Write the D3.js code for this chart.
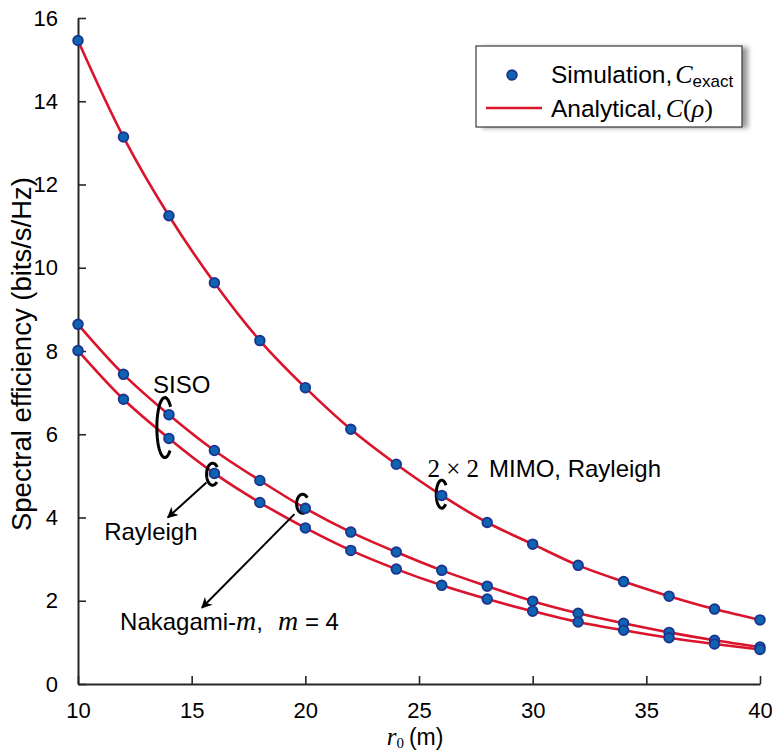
<!DOCTYPE html>
<html>
<head>
<meta charset="utf-8">
<script src="https://cdn.jsdelivr.net/npm/d3@7"></script>
<style>
  html, body { margin: 0; padding: 0; background: #fff; }
  svg { display: block; }
  text { font-family: "Liberation Sans", Arial, Helvetica, sans-serif; fill: #000; }
  .math { font-family: "Liberation Serif", "DejaVu Serif", serif; font-style: italic; }
  .mathup { font-family: "Liberation Serif", "DejaVu Serif", serif; }
</style>
</head>
<body>
<svg id="chart" width="772" height="751"></svg>
<script>
// Transmitter–receiver distance r0 (m)
const distance = [10, 12, 14, 16, 18, 20, 22, 24, 26, 28, 30, 32, 34, 36, 38, 40];

// Spectral efficiency (bits/s/Hz)
const mimoRayleigh = [15.46, 13.14, 11.25, 9.64, 8.25, 7.12, 6.12, 5.28, 4.53, 3.88, 3.36, 2.85, 2.46, 2.11, 1.80, 1.54];
const sisoNakagami = [8.64, 7.44, 6.47, 5.61, 4.89, 4.22, 3.65, 3.17, 2.73, 2.35, 1.99, 1.70, 1.46, 1.24, 1.05, 0.89];
const sisoRayleigh = [8.01, 6.84, 5.90, 5.06, 4.36, 3.75, 3.21, 2.76, 2.37, 2.04, 1.75, 1.49, 1.29, 1.11, 0.96, 0.83];

const xTicks = [10, 15, 20, 25, 30, 35, 40];
const yTicks = [0, 2, 4, 6, 8, 10, 12, 14, 16];

const seriesList = [mimoRayleigh, sisoNakagami, sisoRayleigh];

const svg = d3.select("#chart");
const margin = { left: 78, top: 18, right: 12, bottom: 67 };
const W = 772, H = 751;

const x = d3.scaleLinear().domain([10, 40]).range([margin.left, W - margin.right]);
const y = d3.scaleLinear().domain([0, 16]).range([H - margin.bottom, margin.top]);

const lineColor = "#d9142b";
const axisColor = "#262626";

// Analytical curves
const line = d3.line().x((d, i) => x(distance[i])).y(d => y(d)).curve(d3.curveCatmullRom.alpha(0.5));
svg.append("g").selectAll("path").data(seriesList).join("path")
  .attr("d", d => line(d))
  .attr("fill", "none")
  .attr("stroke", lineColor)
  .attr("stroke-width", 2.6);

// Axes (inward ticks, no box)
const xAxis = d3.axisBottom(x).tickValues(xTicks).tickSizeInner(-8).tickSizeOuter(0).tickPadding(18);
const yAxis = d3.axisLeft(y).tickValues(yTicks).tickSizeInner(-8).tickSizeOuter(0).tickPadding(20);

const gx = svg.append("g").attr("transform", `translate(0,${y(0)})`).call(xAxis);
const gy = svg.append("g").attr("transform", `translate(${x(10)},0)`).call(yAxis);
[gx, gy].forEach(g => {
  g.select(".domain").attr("stroke", axisColor).attr("stroke-width", 2);
  g.selectAll(".tick line").attr("stroke", axisColor).attr("stroke-width", 1.6);
  g.selectAll(".tick text").attr("font-size", 22).attr("fill", "#222")
    .attr("font-family", '"Liberation Sans", Arial, sans-serif');
});

// Annotation brackets: ellipse arcs open on the right
function bracket(cx, cy, rx, ry, t0, t1) {
  const pts = d3.range(0, 61).map(k => {
    const t = (t0 + (t1 - t0) * k / 60) * Math.PI / 180;
    return [cx + rx * Math.cos(t), cy + ry * Math.sin(t)];
  });
  svg.append("path").attr("d", d3.line()(pts))
    .attr("fill", "none").attr("stroke", "#000").attr("stroke-width", 3);
}
bracket(x(13.82), y(6.16), 8, 30, 50, 316);
bracket(x(15.92), y(5.04), 6, 11, 45, 320);
bracket(x(19.88), y(4.33), 6, 9.5, 45, 320);
bracket(x(26.0), y(4.56), 5.5, 14, 45, 320);

// Arrows
const defs = svg.append("defs");
defs.append("marker").attr("id", "arrowhead").attr("viewBox", "0 0 10 10")
  .attr("refX", 9).attr("refY", 5).attr("markerWidth", 5.5).attr("markerHeight", 5.5)
  .attr("markerUnits", "strokeWidth").attr("orient", "auto")
  .append("path").attr("d", "M0,0 L10,5 L0,10 L3,5 Z").attr("fill", "#000");

function arrow(x0, y0, x1, y1) {
  svg.append("line")
    .attr("x1", x(x0)).attr("y1", y(y0)).attr("x2", x(x1)).attr("y2", y(y1))
    .attr("stroke", "#000").attr("stroke-width", 2).attr("marker-end", "url(#arrowhead)");
}
arrow(15.65, 4.84, 13.95, 4.0);
arrow(19.52, 4.08, 15.45, 1.83);

// Simulation points
svg.append("g").selectAll("g").data(seriesList).join("g")
  .selectAll("circle").data(d => d).join("circle")
  .attr("cx", (d, i) => x(distance[i]))
  .attr("cy", d => y(d))
  .attr("r", 4.8)
  .attr("fill", "#0e64b0")
  .attr("stroke", "#1a3690")
  .attr("stroke-width", 1.9);

// Annotation labels
const fs = 24;
svg.append("text").attr("x", x(13.3)).attr("y", y(6.98)).attr("font-size", fs).text("SISO");
svg.append("text").attr("x", x(11.15)).attr("y", y(3.45)).attr("font-size", fs).text("Rayleigh");

const nak = svg.append("text").attr("x", x(11.85)).attr("y", y(1.29)).attr("font-size", fs);
nak.append("tspan").text("Nakagami-");
nak.append("tspan").attr("class", "math").attr("font-size", 28).text("m");
nak.append("tspan").text(",");
nak.append("tspan").attr("class", "math").attr("font-size", 28).attr("dx", 15).text("m");
nak.append("tspan").text(" = 4");

const mimo = svg.append("text").attr("x", x(25.37)).attr("y", y(4.97)).attr("font-size", fs);
mimo.append("tspan").attr("class", "mathup").attr("font-size", 25).text("2 × 2");
mimo.append("tspan").attr("dx", 10).text("MIMO, Rayleigh");

// Axis titles
svg.append("text")
  .attr("transform", `translate(31,${(y(0) + y(16)) / 2 + 3}) rotate(-90)`)
  .attr("text-anchor", "middle").attr("font-size", 27.5).attr("fill", "#222")
  .text("Spectral efficiency (bits/s/Hz)");

const xl = svg.append("text").attr("x", x(25) - 4).attr("y", 745).attr("text-anchor", "middle").attr("font-size", 23).attr("fill", "#222");
xl.append("tspan").attr("class", "math").attr("font-size", 25).text("r");
xl.append("tspan").attr("class", "mathup").attr("font-size", 15).attr("dy", 3).text("0");
xl.append("tspan").attr("dy", -3).attr("dx", 5).text("(m)");

// Legend
const lg = svg.append("g").attr("transform", "translate(476,46)");
const lw = 266, lh = 81;
defs.append("filter").attr("id", "shadowBlur").attr("x", "-20%").attr("y", "-20%").attr("width", "140%").attr("height", "140%")
  .append("feGaussianBlur").attr("stdDeviation", 2.5);
lg.append("rect").attr("x", 6).attr("y", 1).attr("width", lw).attr("height", lh)
  .attr("fill", "#9a9a9a").attr("filter", "url(#shadowBlur)");
lg.append("rect").attr("width", lw).attr("height", lh).attr("fill", "#fff")
  .attr("stroke", "#3a3a3a").attr("stroke-width", 1.2);
lg.append("line").attr("x1", 0).attr("x2", lw).attr("y1", 0.5).attr("y2", 0.5)
  .attr("stroke", "#555").attr("stroke-width", 3).attr("filter", "url(#shadowBlur)");

lg.append("circle").attr("cx", 36).attr("cy", 29).attr("r", 4.8)
  .attr("fill", "#0e64b0").attr("stroke", "#1a3690").attr("stroke-width", 1.9);
lg.append("line").attr("x1", 10).attr("x2", 66).attr("y1", 62).attr("y2", 62)
  .attr("stroke", lineColor).attr("stroke-width", 2.6);

const t1 = lg.append("text").attr("x", 75).attr("y", 37).attr("font-size", 24.5);
t1.append("tspan").text("Simulation,");
t1.append("tspan").attr("class", "math").attr("font-size", 26).attr("dx", 3).text("C");
t1.append("tspan").attr("font-size", 17).attr("dy", 4).text("exact");

const t2 = lg.append("text").attr("x", 75).attr("y", 71).attr("font-size", 24.5);
t2.append("tspan").text("Analytical,");
t2.append("tspan").attr("class", "math").attr("font-size", 26).attr("dx", 3).text("C");
t2.append("tspan").attr("class", "mathup").attr("font-size", 26).text("(");
t2.append("tspan").attr("class", "math").attr("font-size", 26).text("ρ");
t2.append("tspan").attr("class", "mathup").attr("font-size", 26).text(")");
</script>
</body>
</html>
